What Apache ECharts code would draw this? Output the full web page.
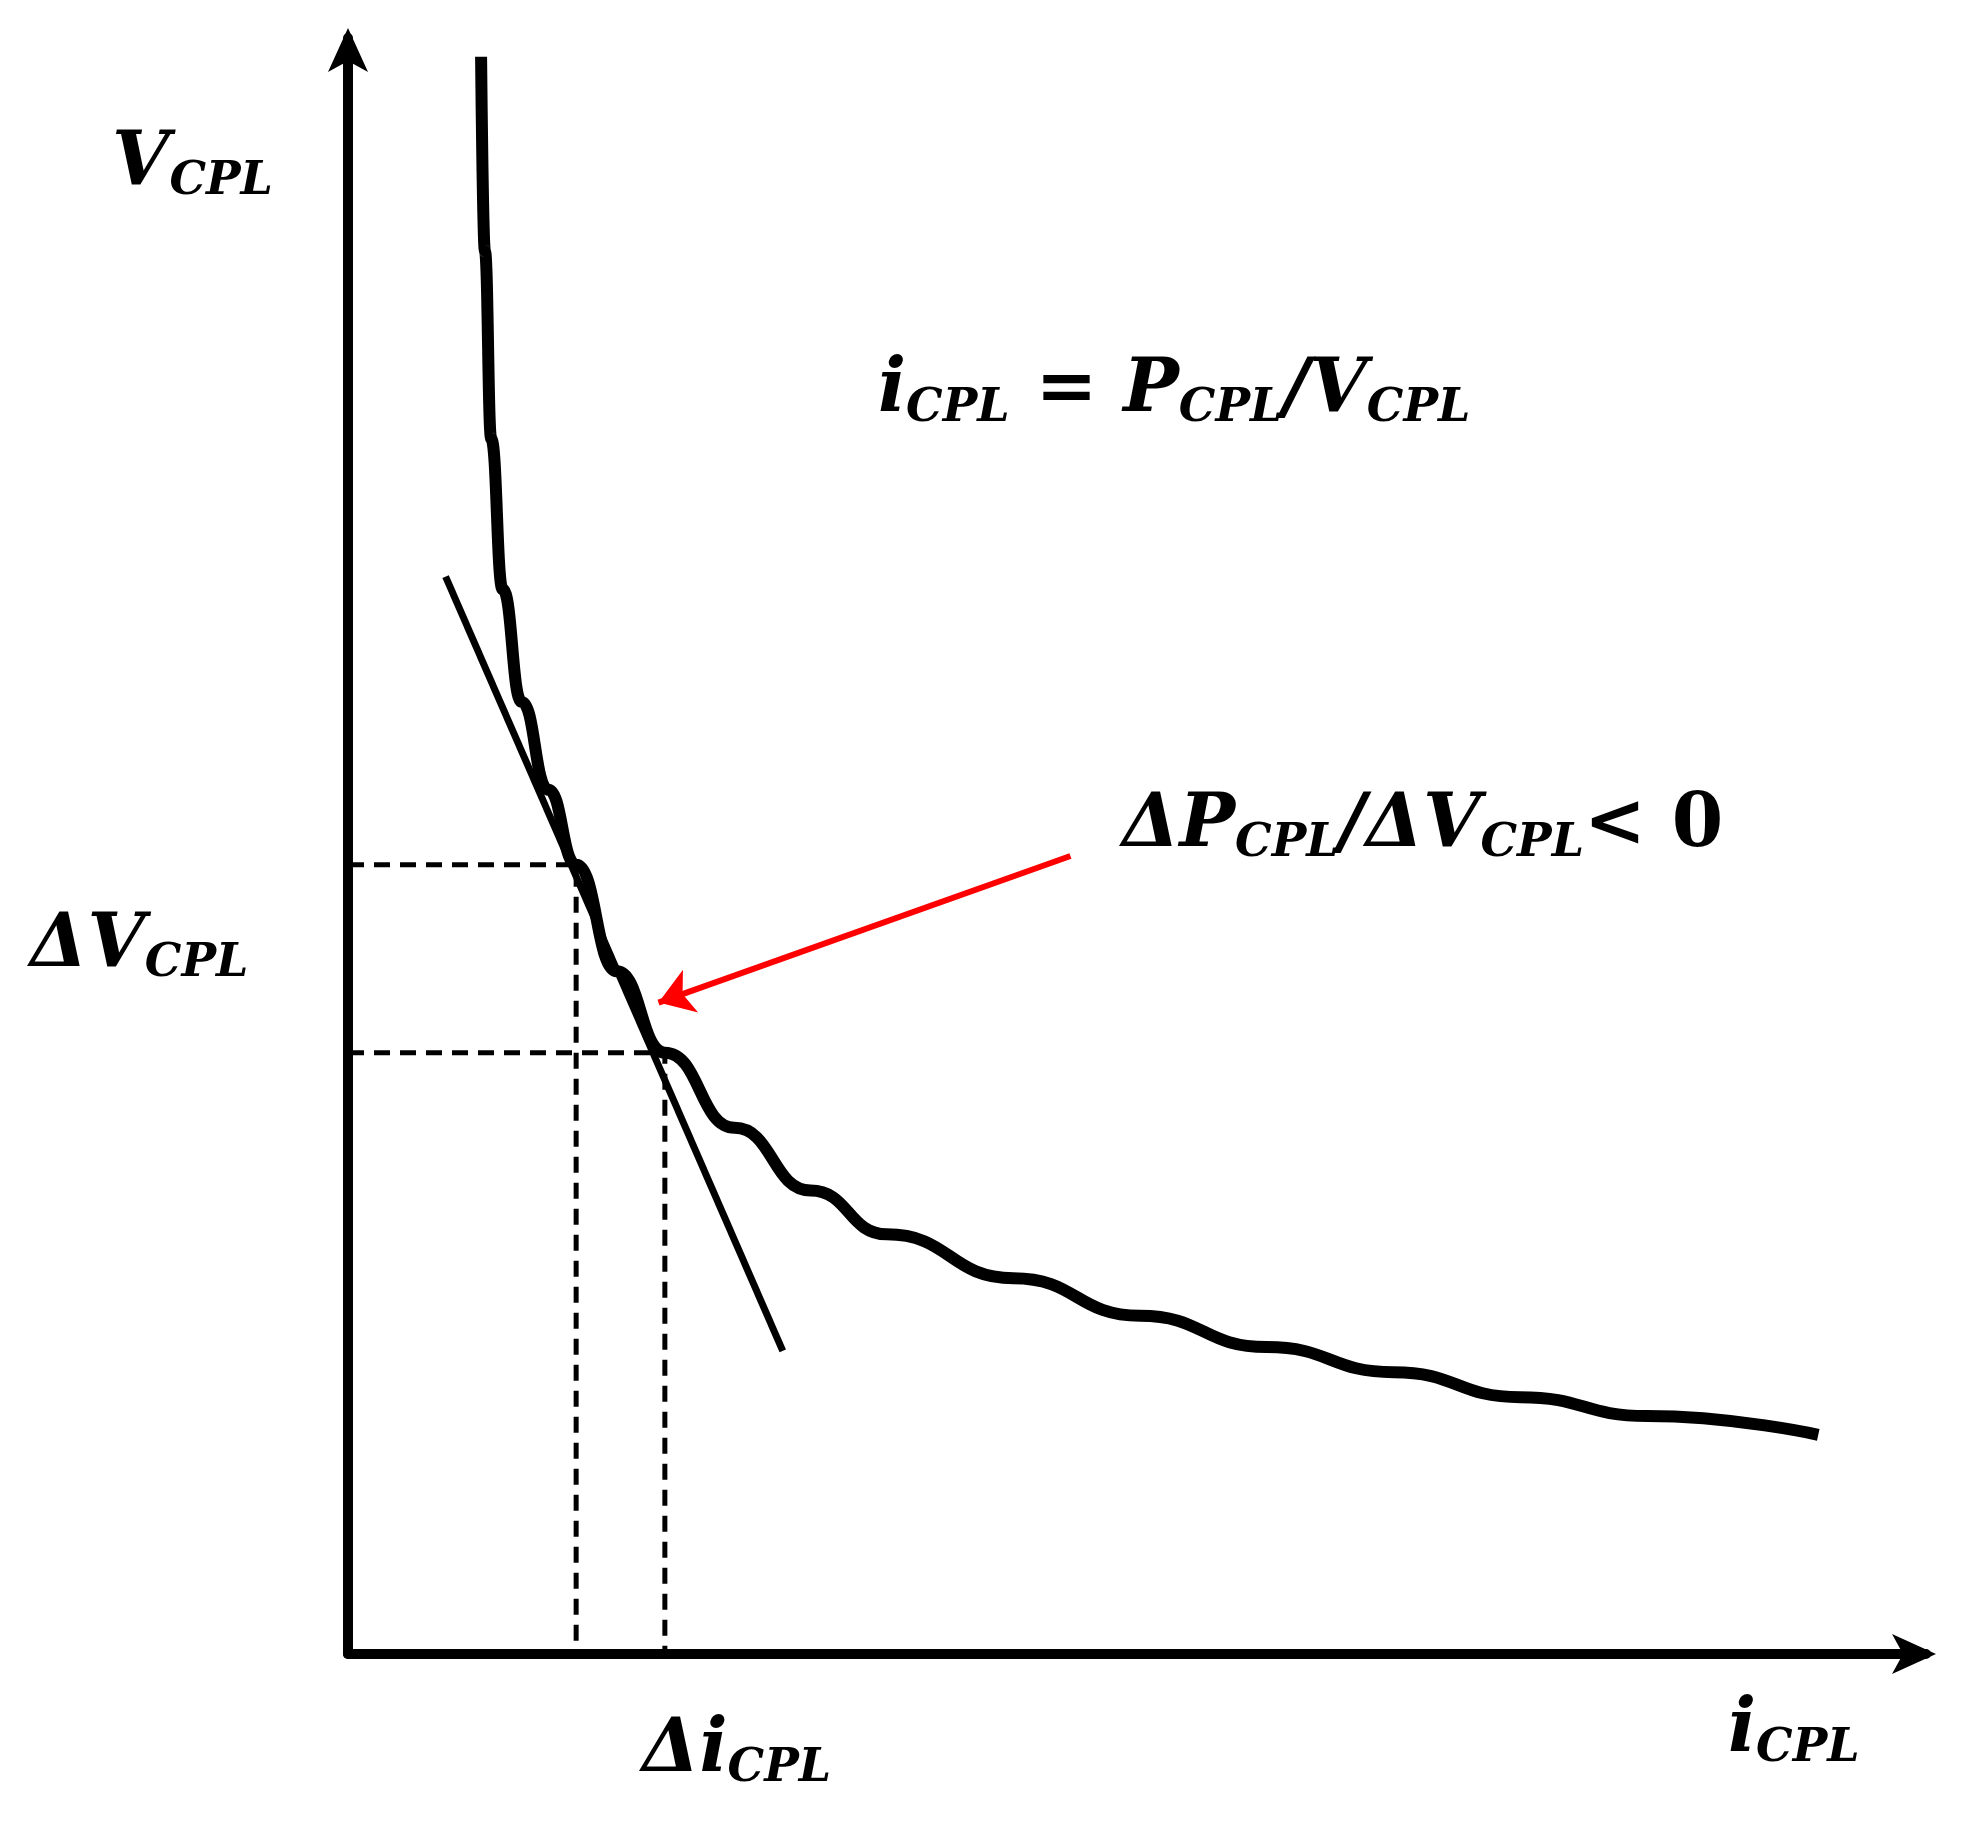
<!DOCTYPE html>
<html>
<head>
<meta charset="utf-8">
<script src="https://cdn.jsdelivr.net/npm/echarts@6/dist/echarts.min.js"></script>
<style>html,body{margin:0;background:#fff}#c{width:1964px;height:1829px}</style>
</head>
<body>
<div id="c"></div>
<script>
// CPL characteristic curve (i, V)
const curvePoints = [
  [105, 1275], [108, 1120], [113, 970], [122, 850], [137, 760], [158, 690],
  [180, 630], [212, 545], [250, 480], [305, 420], [365, 370], [425, 335],
  [525, 300], [625, 270], [725, 245], [825, 225], [925, 205], [1025, 190], [1160, 175]
];
// tangent line at the operating point
const tangentPoints = [[77, 860], [343, 242]];
// dashed projections
const dashV1 = [[0, 630], [180, 630], [180, 0]];
const dashV2 = [[0, 480], [250, 480], [250, 0]];
// arrow (start -> head)
const arrowPoints = [[570, 637], [245, 520]];
// braces
const braceLeft = [[-5, 627], [-38, 624], [-45, 612], [-45, 566], [-50, 556], [-70, 553],
  [-50, 550], [-45, 540], [-45, 494], [-38, 483], [-5, 480]];
const braceBottom = [[173, -20], [175, -35], [181, -40], [204, -40], [210, -46], [210, -62],
  [210, -46], [216, -40], [239, -40], [245, -35], [245, -20]];

const chart = echarts.init(document.getElementById('c'));
const font = '"DejaVu Serif", "Liberation Serif", serif';
const rich = {
  m: { fontSize: 74, fontWeight: 'bold', fontStyle: 'italic', fontFamily: font, color: '#000' },
  s: { fontSize: 46, fontWeight: 'bold', fontStyle: 'italic', fontFamily: font, color: '#000', padding: [34, 0, 0, 0] },
  n: { fontSize: 74, fontWeight: 'bold', fontFamily: font, color: '#000' }
};
function label(x, y, text) {
  return { type: 'text', left: x, top: y, style: { text: text, rich: rich } };
}
function lineSeries(data, width, extra) {
  return Object.assign({
    type: 'line', data: data, symbol: 'none', clip: false, silent: true,
    lineStyle: { color: '#000', width: width }
  }, extra || {});
}
const dashStyle = { color: '#000', width: 5, type: [16, 10] };

chart.setOption({
  animation: false,
  grid: { left: 348, right: 38, top: 38, bottom: 175 },
  xAxis: {
    type: 'value', min: 0, max: 1245,
    axisLine: { onZero: false, symbol: ['none', 'arrow'], symbolSize: [30, 44], symbolOffset: [0, 10], lineStyle: { color: '#000', width: 10 } },
    axisTick: { show: false }, axisLabel: { show: false }, splitLine: { show: false }
  },
  yAxis: {
    type: 'value', min: 0, max: 1290,
    axisLine: { onZero: false, symbol: ['none', 'arrow'], symbolSize: [30, 44], symbolOffset: [0, 10], lineStyle: { color: '#000', width: 10 } },
    axisTick: { show: false }, axisLabel: { show: false }, splitLine: { show: false }
  },
  series: [
    lineSeries(dashV1, 5, { lineStyle: dashStyle }),
    lineSeries(dashV2, 5, { lineStyle: dashStyle }),
    lineSeries(curvePoints, 12, { smooth: 0.5, smoothMonotone: 'x' }),
    lineSeries(tangentPoints, 7),
    {
      type: 'lines', coordinateSystem: 'cartesian2d', silent: true, polyline: true,
      lineStyle: { color: '#000', width: 8, opacity: 1 },
      data: [{ coords: braceLeft }, { coords: braceBottom }]
    },
    {
      type: 'lines', coordinateSystem: 'cartesian2d', silent: true,
      symbol: ['none', 'arrow'], symbolSize: 34,
      lineStyle: { color: '#ff0000', width: 6, opacity: 1 },
      data: [{ coords: arrowPoints }]
    }
  ],
  graphic: [
    label(112, 128, '{m|V}{s|CPL}'),
    label(878, 355, '{m|i}{s|CPL}{m| = P}{s|CPL}{m|/V}{s|CPL}'),
    label(1122, 790, '{m|ΔP}{s|CPL}{m|/ΔV}{s|CPL}{n|< 0}'),
    label(30, 910, '{m|ΔV}{s|CPL}'),
    label(1728, 1695, '{m|i}{s|CPL}'),
    label(642, 1715, '{m|Δi}{s|CPL}')
  ]
});
</script>
</body>
</html>
